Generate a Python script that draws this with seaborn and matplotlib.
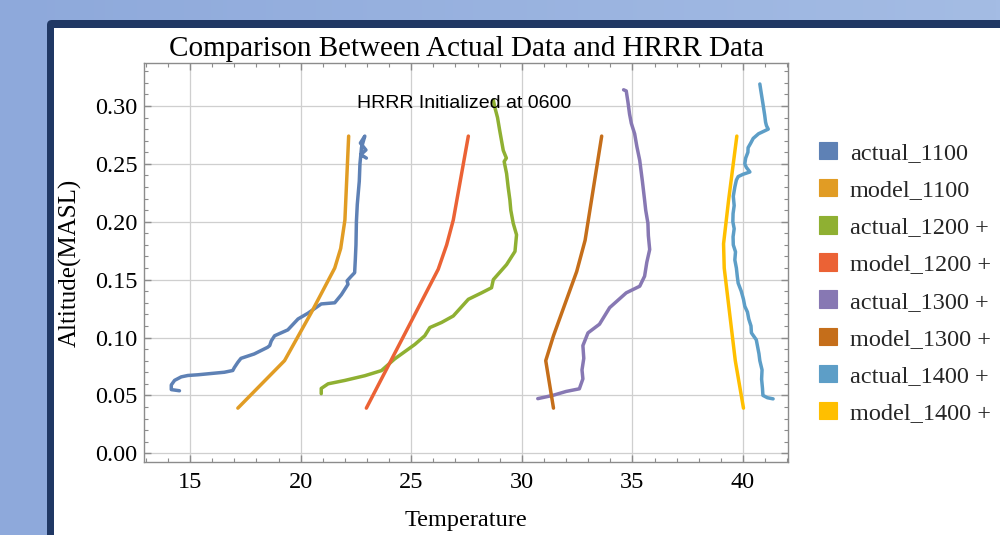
import numpy as np
import pandas as pd
import matplotlib
matplotlib.use("Agg")
import matplotlib.pyplot as plt
import seaborn as sns
from matplotlib.patches import Patch, FancyBboxPatch, Rectangle
from matplotlib.colors import LinearSegmentedColormap
from matplotlib.ticker import MultipleLocator, FormatStrFormatter

# ---------------- data ----------------
series_names = ["actual_1100", "model_1100", "actual_1200 +", "model_1200 +",
                "actual_1300 +", "model_1300 +", "actual_1400 +", "model_1400 +"]
series_colors = ["#5E81B5", "#E19C24", "#8FB032", "#EB6235",
                 "#8778B3", "#C56E1A", "#5D9EC7", "#FFBF00"]

actual_1100_t = [14.52, 14.15, 14.15, 14.3, 14.6, 14.9, 15.35, 16.0, 16.55, 16.93, 17.0,
                 17.16, 17.3, 17.9, 18.5, 18.6, 18.67, 18.82, 19.42, 19.88, 20.33,
                 20.93, 21.54, 21.84, 22.14, 22.1, 22.29, 22.44, 22.47, 22.5, 22.52,
                 22.56, 22.6, 22.65, 22.68, 22.72, 22.75, 22.9, 22.7, 22.95, 22.72, 22.97]
actual_1100_a = [0.054, 0.055, 0.059, 0.063, 0.066, 0.0672, 0.0678, 0.069, 0.070, 0.0715, 0.074,
                 0.0786, 0.082, 0.0858, 0.0915, 0.093, 0.097, 0.1015, 0.1066, 0.116, 0.121,
                 0.129, 0.130, 0.137, 0.146, 0.149, 0.153, 0.156, 0.167, 0.180, 0.200,
                 0.215, 0.224, 0.235, 0.250, 0.258, 0.264, 0.274, 0.268, 0.262, 0.258, 0.255]

model_1100_t = [17.16, 19.27, 20.48, 21.54, 21.81, 22.0, 22.17]
model_1100_a = [0.039, 0.080, 0.1215, 0.160, 0.177, 0.2015, 0.274]

actual_1200_t = [20.93, 20.93, 21.24, 21.99, 22.9, 23.65, 24.25, 25.16, 25.61, 25.84,
                 26.37, 26.9, 27.58, 28.18, 28.63, 28.71, 29.31, 29.69, 29.76, 29.61,
                 29.5, 29.46, 29.38, 29.31, 29.2, 29.3, 29.16, 29.0, 28.9, 28.78, 28.71]
actual_1200_a = [0.0515, 0.056, 0.060, 0.0629, 0.067, 0.0714, 0.0815, 0.094, 0.1015, 0.1086,
                 0.113, 0.1186, 0.133, 0.1386, 0.143, 0.150, 0.163, 0.1744, 0.1887, 0.1987,
                 0.210, 0.2187, 0.230, 0.2416, 0.252, 0.255, 0.2616, 0.2787, 0.290, 0.2987, 0.305]

model_1200_t = [22.97, 26.22, 26.6, 26.9, 27.58]
model_1200_a = [0.039, 0.159, 0.180, 0.2015, 0.274]

actual_1300_t = [30.72, 31.4, 32.0, 32.6, 32.76, 32.72, 32.8, 32.76, 32.99, 33.51,
                 33.97, 34.72, 35.33, 35.55, 35.65, 35.78, 35.72, 35.7, 35.6, 35.55,
                 35.45, 35.33, 35.2, 35.1, 34.95, 34.87, 34.8, 34.72, 34.6]
actual_1300_a = [0.0472, 0.050, 0.0534, 0.0557, 0.0643, 0.072, 0.082, 0.093, 0.104, 0.1115,
                 0.1258, 0.1386, 0.1443, 0.153, 0.165, 0.176, 0.188, 0.1987, 0.210, 0.2187,
                 0.235, 0.253, 0.265, 0.276, 0.285, 0.293, 0.303, 0.313, 0.314]

model_1300_t = [31.43, 31.08, 31.43, 32.48, 32.86, 33.61]
model_1300_a = [0.039, 0.080, 0.1015, 0.157, 0.184, 0.274]

actual_1400_t = [41.36, 41.1, 40.9, 40.88, 40.84, 40.86, 40.76, 40.72, 40.66, 40.6,
                 40.38, 40.36, 40.26, 40.2, 40.08, 40.02, 39.92, 39.78, 39.74, 39.7,
                 39.63, 39.66, 39.56, 39.55, 39.6, 39.54, 39.55, 39.6, 39.56, 39.63,
                 39.7, 39.78, 40.0, 40.31, 40.15, 40.08, 40.12, 40.22, 40.23, 40.35,
                 40.46, 40.7, 41.14, 41.06, 41.02, 40.98, 40.94, 40.9, 40.85, 40.8, 40.76]
actual_1400_a = [0.047, 0.048, 0.050, 0.056, 0.064, 0.072, 0.080, 0.086, 0.092, 0.098,
                 0.104, 0.110, 0.116, 0.122, 0.127, 0.133, 0.140, 0.147, 0.153, 0.160,
                 0.167, 0.174, 0.180, 0.187, 0.194, 0.200, 0.207, 0.214, 0.222, 0.230,
                 0.236, 0.239, 0.241, 0.243, 0.247, 0.250, 0.255, 0.260, 0.264, 0.268,
                 0.272, 0.276, 0.280, 0.283, 0.286, 0.292, 0.297, 0.302, 0.308, 0.314, 0.319]

model_1400_t = [40.02, 39.65, 39.15, 39.12, 39.35, 39.72]
model_1400_a = [0.039, 0.080, 0.160, 0.181, 0.219, 0.274]

temps = [actual_1100_t, model_1100_t, actual_1200_t, model_1200_t,
         actual_1300_t, model_1300_t, actual_1400_t, model_1400_t]
alts = [actual_1100_a, model_1100_a, actual_1200_a, model_1200_a,
        actual_1300_a, model_1300_a, actual_1400_a, model_1400_a]

x_major_ticks = [15, 20, 25, 30, 35, 40]
y_major_ticks = [0.00, 0.05, 0.10, 0.15, 0.20, 0.25, 0.30]

title_text = "Comparison Between Actual Data and HRRR Data"
note_text = "HRRR Initialized at 0600"
x_label = "Temperature"
y_label = "Altitude(MASL)"

rows = []
for name, tt, aa in zip(series_names, temps, alts):
    for i, (t, a) in enumerate(zip(tt, aa)):
        rows.append({"series": name, "order": i, "temp": t, "alt": a})
df = pd.DataFrame(rows)

# ---------------- figure ----------------
sns.set_theme(style="white")
plt.rcParams["font.family"] = ["Liberation Serif", "DejaVu Serif"]

W, H = 1000, 535
fig = plt.figure(figsize=(W / 100, H / 100), dpi=100)

# slide background
bg = fig.add_axes([0, 0, 1, 1], zorder=0)
grad = np.linspace(0, 1, 256).reshape(1, -1)
cmap = LinearSegmentedColormap.from_list("bg", ["#8EA9DB", "#A4BCE4"])
bg.imshow(grad, extent=[0, W, H, 0], aspect="auto", cmap=cmap)
bg.add_patch(FancyBboxPatch((47, 20), 1100, 700, boxstyle="round,pad=0,rounding_size=5",
                            fc="#203864", ec="none"))
bg.add_patch(Rectangle((54.3, 27.7), 1100, 700, fc="white", ec="none"))
bg.set_xlim(0, W)
bg.set_ylim(H, 0)
bg.axis("off")

ax_l, ax_r, ax_t, ax_b = 144.3, 787.7, 62.7, 462.3
ax = fig.add_axes([ax_l / W, 1 - ax_b / H, (ax_r - ax_l) / W, (ax_b - ax_t) / H], zorder=1)
ax.set_facecolor("white")

palette = dict(zip(series_names, series_colors))
sns.lineplot(data=df, x="temp", y="alt", hue="series", hue_order=series_names,
             palette=palette, estimator=None, sort=False, units="series",
             linewidth=2.5, legend=False, ax=ax)

ax.set_xlim(12.93, 42.02)
ax.set_ylim(-0.0078, 0.3374)
ax.set_xticks(x_major_ticks)
ax.set_yticks(y_major_ticks)
ax.xaxis.set_minor_locator(MultipleLocator(1))
ax.yaxis.set_minor_locator(MultipleLocator(0.01))
ax.yaxis.set_major_formatter(FormatStrFormatter("%.2f"))

ax.grid(True, which="major", color="#CFCFCF", linewidth=0.9)
ax.set_axisbelow(True)
for s in ax.spines.values():
    s.set_color("#8C8C8C")
    s.set_linewidth(1.0)
ax.tick_params(which="both", direction="in", top=True, right=True, bottom=True, left=True,
               color="#8C8C8C", labelcolor="black")
ax.tick_params(which="major", length=5, width=1.0, labelsize=17.5)
ax.tick_params(which="minor", length=2.8, width=0.8)
ax.tick_params(axis="x", which="major", pad=7)
ax.tick_params(axis="y", which="major", pad=5)

ax.set_title(title_text, fontsize=21, pad=5, color="black")
ax.set_xlabel(x_label, fontsize=17.5, labelpad=12, color="black")
ax.set_ylabel(y_label, fontsize=18, labelpad=9, color="black")
ax.text(0.497, 0.899, note_text, transform=ax.transAxes, ha="center", va="center",
        fontsize=14, color="black", family=["Liberation Sans", "DejaVu Sans"])

handles = [Patch(facecolor=c, edgecolor=c, linewidth=0.8) for c in series_colors]
fig.legend(handles, series_names, loc="upper left", bbox_to_anchor=(819 / W, 1 - 142 / H),
           frameon=False, fontsize=17.5, handlelength=0.72, handleheight=0.72,
           handletextpad=0.55, labelspacing=0.615, borderaxespad=0, borderpad=0)

fig.savefig("out.png", dpi=100)
